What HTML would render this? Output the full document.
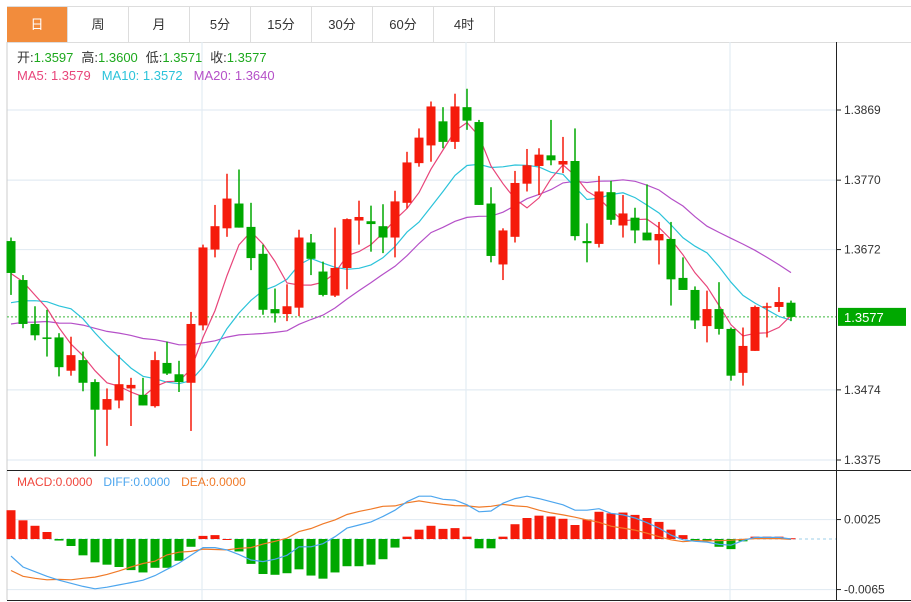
<!DOCTYPE html>
<html><head><meta charset="utf-8">
<style>
body{margin:0;background:#fff;width:911px;height:602px;overflow:hidden;font-family:"Liberation Sans","Noto Sans CJK SC",sans-serif;}
#tabs{position:absolute;left:7px;top:6px;height:35px;display:flex;border-top:1px solid #ddd;border-bottom:1px solid #ddd;width:904px;}
.tab{width:60px;border-right:1px solid #ddd;text-align:center;line-height:35px;font-size:13px;color:#333;}
.tab.active{background:#F28C3C;color:#fff;}
svg{position:absolute;left:0;top:0;}
</style></head><body>
<div id="tabs">
<div class="tab active">日</div>
<div class="tab">周</div>
<div class="tab">月</div>
<div class="tab">5分</div>
<div class="tab">15分</div>
<div class="tab">30分</div>
<div class="tab">60分</div>
<div class="tab">4时</div>
</div>
<svg id="chart" width="911" height="602" font-family="Liberation Sans, Noto Sans CJK SC, sans-serif">
<g id="grid"></g>
<g id="ma"></g>
<g id="candles"></g>
<g id="macd"></g>
<g id="axes"></g>
<g font-size="13">
<text x="17" y="62"><tspan fill="#333">开:</tspan><tspan fill="#1DA81D">1.3597</tspan><tspan fill="#333" dx="8">高:</tspan><tspan fill="#1DA81D">1.3600</tspan><tspan fill="#333" dx="8">低:</tspan><tspan fill="#1DA81D">1.3571</tspan><tspan fill="#333" dx="8">收:</tspan><tspan fill="#1DA81D">1.3577</tspan></text>
<text x="17" y="80"><tspan fill="#E8457A">MA5: 1.3579</tspan><tspan fill="#2BC3DA" dx="11">MA10: 1.3572</tspan><tspan fill="#B550C8" dx="11">MA20: 1.3640</tspan></text>
</g>
<g font-size="12">
<text x="17" y="486"><tspan fill="#F0463C">MACD:0.0000</tspan><tspan fill="#4DA6EE" dx="11">DIFF:0.0000</tspan><tspan fill="#F07A28" dx="11">DEA:0.0000</tspan></text>
</g>
</svg>
<script>
const opens=[1.3684,1.3629,1.3567,1.3548,1.3548,1.3501,1.3516,1.3485,1.3446,1.3459,1.3476,1.3467,1.3451,1.3512,1.3496,1.3484,1.3565,1.3672,1.3702,1.3737,1.3704,1.3666,1.3588,1.3581,1.3590,1.3682,1.3641,1.3607,1.3646,1.3713,1.3712,1.3705,1.3689,1.3738,1.3794,1.3819,1.3853,1.3824,1.3873,1.3852,1.3737,1.3651,1.3690,1.3765,1.3790,1.3805,1.3792,1.3797,1.3684,1.3680,1.3753,1.3706,1.3717,1.3696,1.3685,1.3687,1.3632,1.3615,1.3564,1.3588,1.3560,1.3498,1.3529,1.3590,1.3591,1.3597];
const closes=[1.3639,1.3567,1.3551,1.3546,1.3506,1.3523,1.3484,1.3446,1.3461,1.3482,1.3481,1.3452,1.3516,1.3497,1.3485,1.3567,1.3675,1.3705,1.3744,1.3703,1.3660,1.3587,1.3582,1.3592,1.3689,1.3659,1.3608,1.3646,1.3715,1.3718,1.3708,1.3689,1.3740,1.3795,1.3830,1.3874,1.3824,1.3874,1.3854,1.3735,1.3663,1.3699,1.3766,1.3791,1.3806,1.3798,1.3797,1.3691,1.3681,1.3754,1.3714,1.3723,1.3699,1.3685,1.3694,1.3630,1.3615,1.3572,1.3588,1.3560,1.3494,1.3536,1.3591,1.3592,1.3598,1.3577];
const highs=[1.3689,1.3636,1.3592,1.3587,1.3554,1.3549,1.3528,1.3489,1.3476,1.3523,1.3491,1.3491,1.3528,1.3542,1.3515,1.3584,1.3679,1.3735,1.3779,1.3785,1.3738,1.3679,1.3617,1.3623,1.3700,1.3694,1.3655,1.3703,1.3716,1.3741,1.3734,1.3736,1.3755,1.3810,1.3843,1.3881,1.3873,1.3892,1.3899,1.3855,1.3760,1.3702,1.3783,1.3814,1.3815,1.3855,1.3831,1.3843,1.3709,1.3776,1.3769,1.3749,1.3731,1.3764,1.3711,1.3711,1.3661,1.3620,1.3614,1.3626,1.3562,1.3562,1.3593,1.3597,1.3619,1.3600];
const lows=[1.3608,1.3561,1.3544,1.3521,1.3493,1.3494,1.3472,1.3380,1.3395,1.3448,1.3423,1.3452,1.3449,1.3495,1.3471,1.3416,1.3558,1.3661,1.3690,1.3703,1.3643,1.3580,1.3569,1.3571,1.3578,1.3636,1.3606,1.3605,1.3616,1.3679,1.3669,1.3667,1.3661,1.3730,1.3789,1.3796,1.3815,1.3814,1.3841,1.3735,1.3654,1.3629,1.3682,1.3754,1.3749,1.3791,1.3780,1.3685,1.3654,1.3675,1.3707,1.3689,1.3681,1.3685,1.3651,1.3593,1.3615,1.3560,1.3541,1.3552,1.3487,1.3480,1.3529,1.3548,1.3584,1.3571];
// closes before the visible window (used only to seed the moving averages)
const priorCloses=[1.3520,1.3545,1.3530,1.3550,1.3525,1.3540,1.3535,1.3548,1.3530,1.3547,1.3540,1.3550,1.3560,1.3565,1.3564,1.3625,1.3645,1.3640,1.3642];
const priceTicks=[1.3869,1.3770,1.3672,1.3474,1.3375];
const macdHist=[37,24,17,9,-2,-9,-21,-30,-33,-36,-40,-43,-37,-37,-28,-10,4,5,0,-16,-32,-45,-46,-44,-39,-47,-51,-43,-35,-35,-33,-26,-11,3,12,17,13,14,3,-12,-12,3,19,27,30,29,26,18,25,35,33,34,31,27,22,12,5,-2,-3,-10,-13,-3,3,3,3,1];
const diffLine=[-22,-36,-42,-48,-53,-57,-61,-64,-62,-59,-56,-53,-47,-39,-31,-21,-11,-11,-14,-20,-27,-29,-26,-21,-10,-10,-6,3,14,18,22,29,37,48,55,55,51,50,44,35,36,46,52,55,52,48,44,37,37,39,33,31,27,21,14,5,-1,-3,-4,-7,-8,-2,2,2,2,0];
const macdUnit=0.0001;
const macdTicks=[0.0025,-0.0065];

const NS='http://www.w3.org/2000/svg';
function mk(tag,attrs,parent){const e=document.createElementNS(NS,tag);for(const k in attrs)e.setAttribute(k,attrs[k]);parent.appendChild(e);return e;}
const xOf=i=>11+12*i;
const yP=p=>110+(1.3869-p)*7085;
const yM=v=>539-v*macdUnit*7778;
const RED='#F51B0B',GREEN='#00A800';
const grid=document.getElementById('grid'),axes=document.getElementById('axes');

// grid
priceTicks.forEach(t=>{const l=mk('line',{x1:7,x2:836,y1:yP(t),y2:yP(t),stroke:'#E3ECF3','stroke-width':1.2},grid);
});
macdTicks.forEach(t=>{const l=mk('line',{x1:7,x2:836,y1:yM(t/macdUnit),y2:yM(t/macdUnit),stroke:'#E3ECF3','stroke-width':1.2},grid);
});
[202,466,730].forEach(x=>{const l=mk('line',{x1:x,x2:x,y1:42,y2:600,stroke:'#E3ECF3','stroke-width':1.2},grid);
});
mk('line',{x1:7,x2:7,y1:42,y2:600,stroke:'#ccc'},grid);
mk('line',{x1:7,x2:911,y1:470.5,y2:470.5,stroke:'#222'},grid);
mk('line',{x1:7,x2:911,y1:600.5,y2:600.5,stroke:'#222'},grid);
mk('line',{x1:836.5,x2:836.5,y1:42,y2:600,stroke:'#222'},grid);

// price axis
priceTicks.forEach(t=>{mk('line',{x1:836,x2:841,y1:yP(t),y2:yP(t),stroke:'#222'},axes);
const tx=mk('text',{x:844,y:yP(t)+4,'font-size':12,fill:'#333'},axes);tx.textContent=t.toFixed(4);
});
macdTicks.forEach(t=>{const y=yM(t/macdUnit);mk('line',{x1:836,x2:841,y1:y,y2:y,stroke:'#222'},axes);
const tx=mk('text',{x:844,y:y+4,'font-size':12,fill:'#333'},axes);tx.textContent=t.toFixed(4);
});

// last price line + label
const last=closes[closes.length-1];
const lp=mk('line',{x1:7,x2:836,y1:yP(last),y2:yP(last),stroke:'#3CB93C','stroke-dasharray':'2,2','stroke-width':1},grid);

const lb=mk('rect',{x:838,y:yP(last)-9,width:68,height:18,fill:GREEN},axes);

const lt=mk('text',{x:844,y:yP(last)+5,'font-size':13,fill:'#fff'},axes);lt.textContent=last.toFixed(4);


// moving averages
const all=priorCloses.concat(closes);const off=priorCloses.length;
function maPath(n,color,name){let d='';
for(let i=0;i<closes.length;i++){const j=i+off;let s=0,c=0;for(let k=Math.max(0,j-n+1);k<=j;k++){s+=all[k];c++;}
d+=(i?'L':'M')+xOf(i)+','+yP(s/c).toFixed(1);}
const p=mk('path',{d:d,fill:'none',stroke:color,'stroke-width':1.2},document.getElementById('ma'));
}
maPath(20,'#B550C8','ma20-line');maPath(10,'#2BC3DA','ma10-line');maPath(5,'#E8457A','ma5-line');

// candles
const cg=document.getElementById('candles');
for(let i=0;i<closes.length;i++){const up=closes[i]>=opens[i];const col=up?RED:GREEN;const x=xOf(i);
const g=mk('g',{},cg);


mk('line',{x1:x,x2:x,y1:yP(highs[i]),y2:yP(lows[i]),stroke:col,'stroke-width':1.5},g);
const t=yP(Math.max(opens[i],closes[i])),b=yP(Math.min(opens[i],closes[i]));
mk('rect',{x:x-4.5,y:t,width:9,height:Math.max(1.5,b-t),fill:col},g);}

// macd
const mg=document.getElementById('macd');
const zl=mk('line',{x1:7,x2:836,y1:539,y2:539,stroke:'#9CCFE8','stroke-dasharray':'3,3'},mg);

for(let i=0;i<macdHist.length;i++){const v=macdHist[i];const y0=yM(0),y1=yM(v);
const r=mk('rect',{x:xOf(i)-4.5,y:Math.min(y0,y1),width:9,height:Math.max(1,Math.abs(y1-y0)),fill:v>=0?RED:GREEN},mg);

}
let dd='',de='';
for(let i=0;i<diffLine.length;i++){const dea=diffLine[i]-macdHist[i]/2;
dd+=(i?'L':'M')+xOf(i)+','+yM(diffLine[i]).toFixed(1);de+=(i?'L':'M')+xOf(i)+','+yM(dea).toFixed(1);}
const pd=mk('path',{d:de,fill:'none',stroke:'#F07A28','stroke-width':1.2},mg);

const pf=mk('path',{d:dd,fill:'none',stroke:'#4DA6EE','stroke-width':1.2},mg);

</script>
</body></html>
